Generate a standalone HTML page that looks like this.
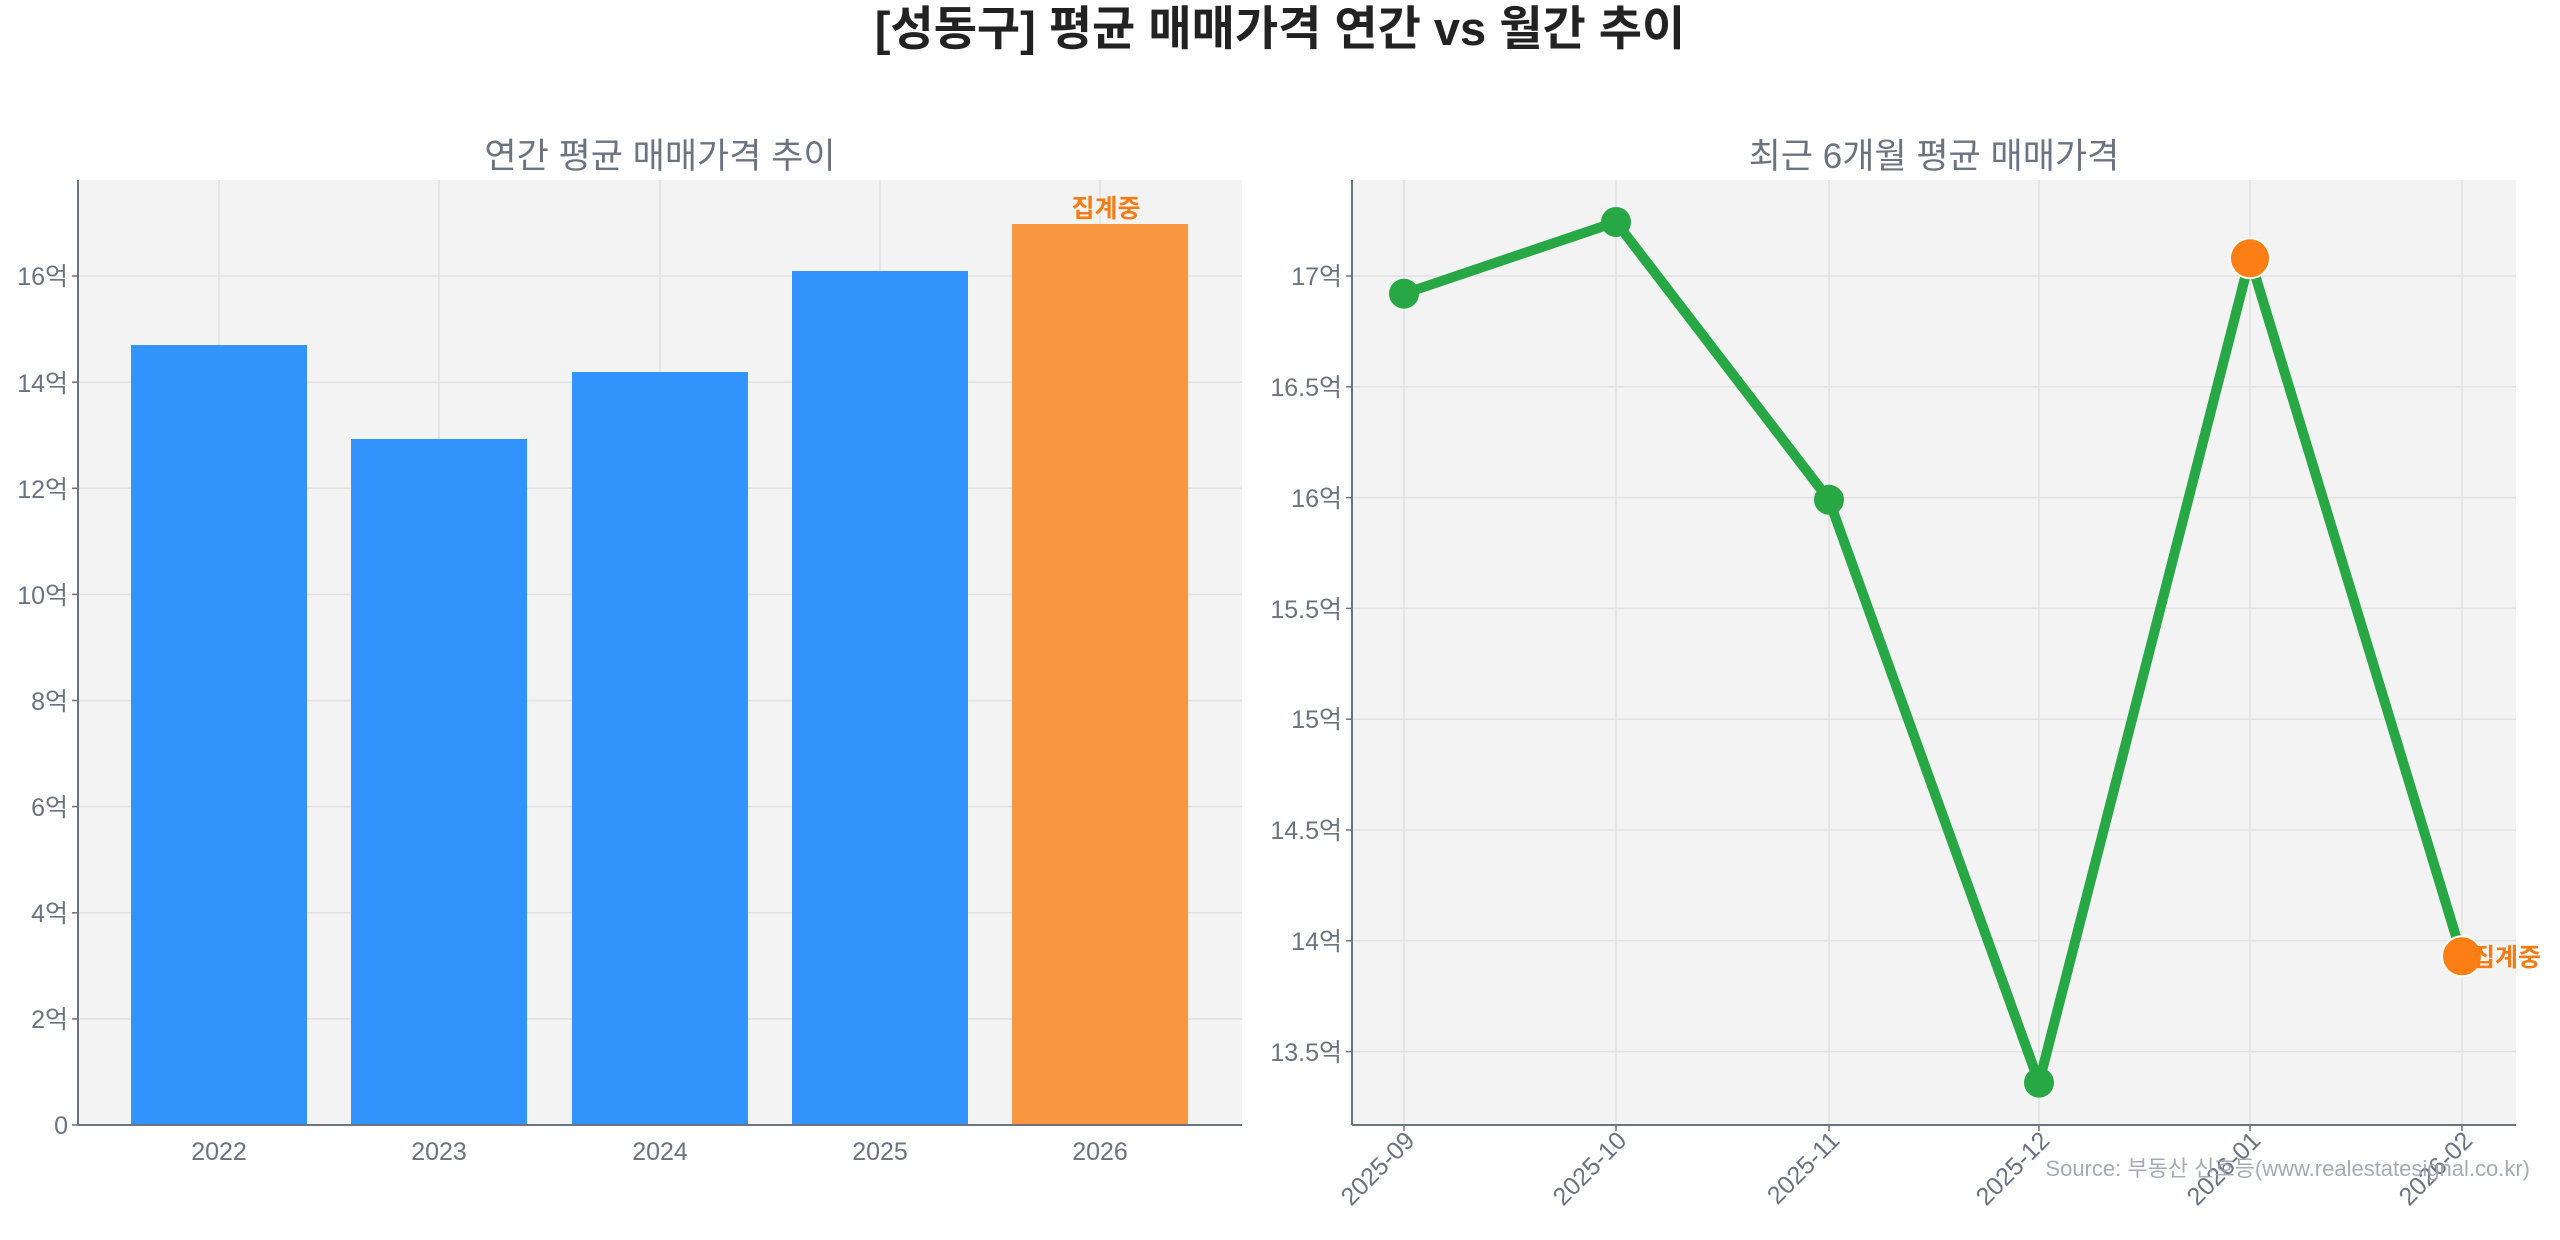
<!DOCTYPE html>
<html><head><meta charset="utf-8"><style>
html,body{margin:0;padding:0;background:#fff;}
svg text{font-family:"Liberation Sans","Noto Sans CJK KR",sans-serif;}
</style></head><body>
<svg width="2560" height="1235" xmlns="http://www.w3.org/2000/svg">
<text x="1280" y="45" text-anchor="middle" font-size="47" font-weight="bold" fill="#222">[성동구] 평균 매매가격 연간 vs 월간 추이</text>
<!-- Left axes -->
<text x="660" y="168" text-anchor="middle" font-size="35" fill="#6b7280">연간 평균 매매가격 추이</text>
<rect x="78" y="180" width="1164" height="945" fill="#f3f3f3"/>
<g stroke="#e2e2e2" stroke-width="1.5">
<line x1="78" x2="1242" y1="1018.9" y2="1018.9"/><line x1="78" x2="1242" y1="912.8" y2="912.8"/>
<line x1="78" x2="1242" y1="806.6" y2="806.6"/><line x1="78" x2="1242" y1="700.5" y2="700.5"/>
<line x1="78" x2="1242" y1="594.4" y2="594.4"/><line x1="78" x2="1242" y1="488.3" y2="488.3"/>
<line x1="78" x2="1242" y1="382.2" y2="382.2"/><line x1="78" x2="1242" y1="276" y2="276"/>
<line x1="219" x2="219" y1="180" y2="1125"/><line x1="439" x2="439" y1="180" y2="1125"/>
<line x1="660" x2="660" y1="180" y2="1125"/><line x1="880" x2="880" y1="180" y2="1125"/>
<line x1="1100" x2="1100" y1="180" y2="1125"/>
</g>
<g fill="#3193fb">
<rect x="131" y="345" width="176" height="780"/>
<rect x="351" y="439" width="176" height="686"/>
<rect x="572" y="372" width="176" height="753"/>
<rect x="792" y="271" width="176" height="854"/>
</g>
<rect x="1012" y="224" width="176" height="901" fill="#f99740"/>
<text x="1106" y="217" text-anchor="middle" font-size="25" font-weight="bold" fill="#f57c14">집계중</text>
<line x1="78" y1="180" x2="78" y2="1125" stroke="#6b7280" stroke-width="2"/>
<line x1="78" y1="1125" x2="1242" y2="1125" stroke="#6b7280" stroke-width="2"/>
<g stroke="#6b7280" stroke-width="1.5">
<line x1="72" x2="78" y1="1125" y2="1125"/><line x1="72" x2="78" y1="1018.9" y2="1018.9"/><line x1="72" x2="78" y1="912.8" y2="912.8"/><line x1="72" x2="78" y1="806.6" y2="806.6"/><line x1="72" x2="78" y1="700.5" y2="700.5"/><line x1="72" x2="78" y1="594.4" y2="594.4"/><line x1="72" x2="78" y1="488.3" y2="488.3"/><line x1="72" x2="78" y1="382.2" y2="382.2"/><line x1="72" x2="78" y1="276" y2="276"/>
<line x1="1346" x2="1352" y1="276" y2="276"/><line x1="1346" x2="1352" y1="386.8" y2="386.8"/><line x1="1346" x2="1352" y1="497.6" y2="497.6"/><line x1="1346" x2="1352" y1="608.4" y2="608.4"/><line x1="1346" x2="1352" y1="719.2" y2="719.2"/><line x1="1346" x2="1352" y1="830" y2="830"/><line x1="1346" x2="1352" y1="940.8" y2="940.8"/><line x1="1346" x2="1352" y1="1051.6" y2="1051.6"/>
<line x1="1404" x2="1404" y1="1125" y2="1131"/><line x1="1616" x2="1616" y1="1125" y2="1131"/><line x1="1829" x2="1829" y1="1125" y2="1131"/><line x1="2039" x2="2039" y1="1125" y2="1131"/><line x1="2250" x2="2250" y1="1125" y2="1131"/><line x1="2462" x2="2462" y1="1125" y2="1131"/>
</g>
<g font-size="25" fill="#6b7280" text-anchor="end">
<text x="68" y="1134">0</text><text x="68" y="1028">2억</text><text x="68" y="922">4억</text>
<text x="68" y="816">6억</text><text x="68" y="710">8억</text><text x="68" y="604">10억</text>
<text x="68" y="498">12억</text><text x="68" y="392">14억</text><text x="68" y="285">16억</text>
</g>
<g font-size="25" fill="#6b7280" text-anchor="middle">
<text x="219" y="1160">2022</text><text x="439" y="1160">2023</text><text x="660" y="1160">2024</text>
<text x="880" y="1160">2025</text><text x="1100" y="1160">2026</text>
</g>
<!-- Right axes -->
<text x="1934" y="168" text-anchor="middle" font-size="35" fill="#6b7280">최근 6개월 평균 매매가격</text>
<rect x="1352" y="180" width="1164" height="945" fill="#f3f3f3"/>
<g stroke="#e2e2e2" stroke-width="1.5">
<line x1="1352" x2="2516" y1="276" y2="276"/><line x1="1352" x2="2516" y1="386.8" y2="386.8"/>
<line x1="1352" x2="2516" y1="497.6" y2="497.6"/><line x1="1352" x2="2516" y1="608.4" y2="608.4"/>
<line x1="1352" x2="2516" y1="719.2" y2="719.2"/><line x1="1352" x2="2516" y1="830" y2="830"/>
<line x1="1352" x2="2516" y1="940.8" y2="940.8"/><line x1="1352" x2="2516" y1="1051.6" y2="1051.6"/>
<line x1="1404" x2="1404" y1="180" y2="1125"/><line x1="1616" x2="1616" y1="180" y2="1125"/>
<line x1="1829" x2="1829" y1="180" y2="1125"/><line x1="2039" x2="2039" y1="180" y2="1125"/>
<line x1="2250" x2="2250" y1="180" y2="1125"/><line x1="2462" x2="2462" y1="180" y2="1125"/>
</g>
<polyline points="1404,293.7 1616,222 1829,499.8 2039,1082.6 2250,258.3 2462,956.3" fill="none" stroke="#28a745" stroke-width="10" stroke-linejoin="round"/>
<g fill="#28a745">
<circle cx="1404" cy="293.7" r="15"/><circle cx="1616" cy="222" r="15"/>
<circle cx="1829" cy="499.8" r="15"/><circle cx="2039" cy="1082.6" r="15"/>
</g>
<circle cx="2250" cy="258.3" r="20" fill="#fd7e14" stroke="#fff" stroke-width="2"/>
<circle cx="2462" cy="956.3" r="20" fill="#fd7e14" stroke="#fff" stroke-width="2"/>
<text x="2472" y="966" font-size="25" font-weight="bold" fill="#f57c14">집계중</text>
<line x1="1352" y1="180" x2="1352" y2="1125" stroke="#6b7280" stroke-width="2"/>
<line x1="1352" y1="1125" x2="2516" y2="1125" stroke="#6b7280" stroke-width="2"/>
<g font-size="25" fill="#6b7280" text-anchor="end">
<text x="1342" y="285">17억</text><text x="1342" y="396">16.5억</text><text x="1342" y="507">16억</text>
<text x="1342" y="618">15.5억</text><text x="1342" y="728">15억</text><text x="1342" y="839">14.5억</text>
<text x="1342" y="950">14억</text><text x="1342" y="1061">13.5억</text>
</g>
<g font-size="25" fill="#6b7280" text-anchor="end">
<text transform="translate(1416,1142) rotate(-45)">2025-09</text>
<text transform="translate(1628,1142) rotate(-45)">2025-10</text>
<text transform="translate(1841,1142) rotate(-45)">2025-11</text>
<text transform="translate(2051,1142) rotate(-45)">2025-12</text>
<text transform="translate(2262,1142) rotate(-45)">2026-01</text>
<text transform="translate(2474,1142) rotate(-45)">2026-02</text>
</g>
<text x="2530" y="1176" text-anchor="end" font-size="22" fill="#9ca3af" opacity="0.9">Source: 부동산 신호등(www.realestatesignal.co.kr)</text>
</svg>
</body></html>
